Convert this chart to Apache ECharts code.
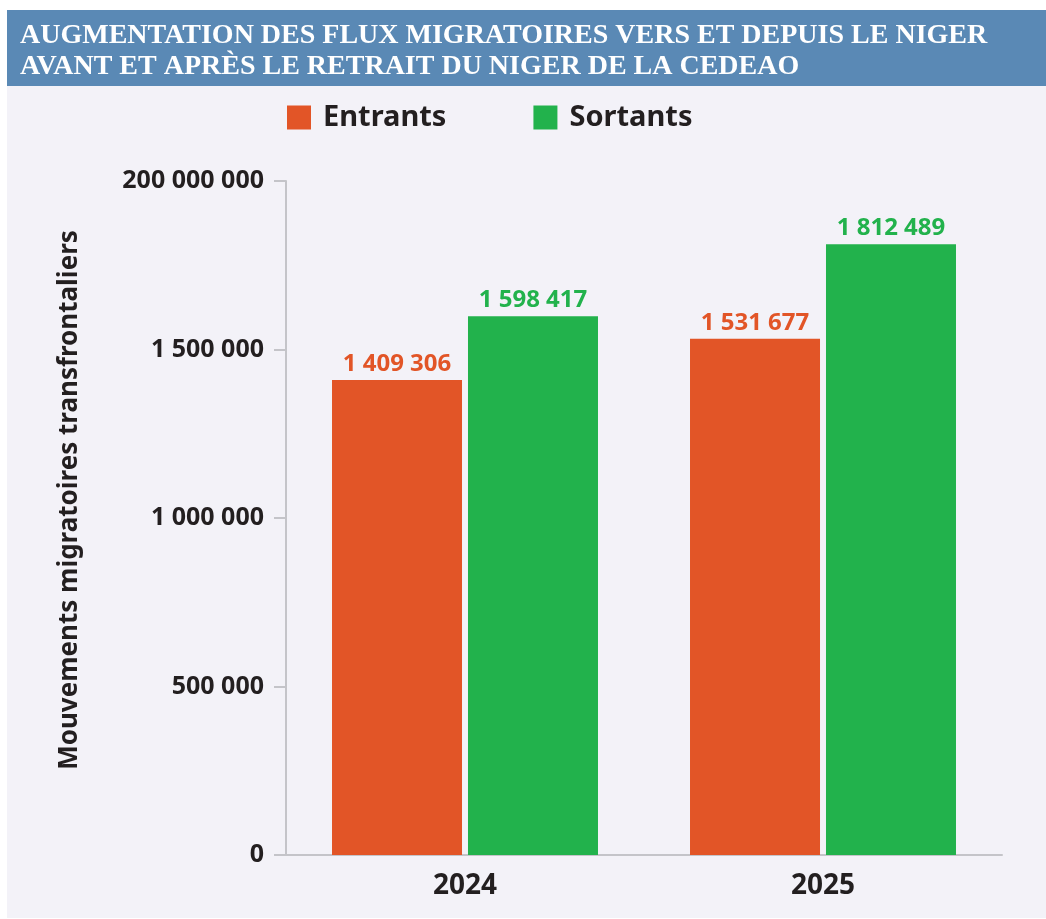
<!DOCTYPE html>
<html>
<head>
<meta charset="utf-8">
<script src="https://cdn.jsdelivr.net/npm/echarts@6/dist/echarts.min.js"></script>
<style>
  html, body { margin: 0; padding: 0; background: #fff; }
  #chart { width: 1046px; height: 919px; }
</style>
</head>
<body>
<div id="chart"></div>
<script>
// données
const years = ['2024', '2025']
const entrants = [1409306, 1531677]
const sortants = [1598417, 1812489]
const yTickLabels = ['0', '500 000', '1 000 000', '1 500 000', '200 000 000']

const titleLines = [
  'AUGMENTATION DES FLUX MIGRATOIRES VERS ET DEPUIS LE NIGER',
  'AVANT ET APRÈS LE RETRAIT DU NIGER DE LA CEDEAO'
]
const yName = 'Mouvements migratoires transfrontaliers'

const ORANGE = '#e25527'
const GREEN = '#22b24c'
const DARK = '#231f20'
const AXIS = '#c4c4c9'
const FONT = '"Noto Sans", sans-serif'

// format "1 409 306"
function fmt(v) {
  return String(v).replace(/\B(?=(\d{3})+(?!\d))/g, ' ')
}

const chart = echarts.init(document.getElementById('chart'))

const option = {
  backgroundColor: '#ffffff',
  animation: false,
  graphic: [
    {
      type: 'rect',
      z: -10,
      shape: { x: 7, y: 86, width: 1039, height: 832 },
      style: { fill: '#f3f2f8' }
    },
    {
      type: 'rect',
      z: -10,
      shape: { x: 7, y: 10, width: 1039, height: 76 },
      style: { fill: '#5a89b5' }
    },
    {
      type: 'text',
      x: 20,
      y: 22,
      style: {
        text: titleLines[0],
        fill: '#ffffff',
        font: 'bold 28px "Liberation Serif", serif'
      }
    },
    {
      type: 'text',
      x: 20,
      y: 53,
      style: {
        text: titleLines[1],
        fill: '#ffffff',
        font: 'bold 28px "Liberation Serif", serif'
      }
    },
    {
      type: 'text',
      x: 70,
      y: 500,
      rotation: Math.PI / 2,
      style: {
        text: yName,
        fill: DARK,
        font: 'bold 26px ' + FONT,
        align: 'center',
        verticalAlign: 'middle'
      }
    }
  ],
  legend: {
    data: ['Entrants', 'Sortants'],
    left: 287,
    top: 103,
    padding: 0,
    icon: 'rect',
    itemWidth: 24,
    itemHeight: 24,
    itemGap: 87,
    textStyle: {
      color: DARK,
      fontFamily: FONT,
      fontWeight: 'bold',
      fontSize: 29,
      width: 124,
      padding: [0, 0, 0, 7]
    }
  },
  grid: {
    left: 286,
    right: 44,
    top: 181,
    bottom: 64
  },
  xAxis: {
    type: 'category',
    data: years,
    axisLine: { lineStyle: { color: AXIS, width: 2 } },
    axisTick: { show: false },
    axisLabel: {
      color: DARK,
      fontFamily: FONT,
      fontWeight: 'bold',
      fontSize: 28,
      margin: 17
    }
  },
  yAxis: {
    type: 'value',
    min: 0,
    max: 2000000,
    interval: 500000,
    axisLine: { show: true, lineStyle: { color: AXIS, width: 2 } },
    axisTick: { show: true, length: 12, lineStyle: { color: AXIS, width: 2 } },
    splitLine: { show: false },
    axisLabel: {
      color: DARK,
      fontFamily: FONT,
      fontWeight: 'bold',
      fontSize: 25,
      margin: 22,
      formatter: (v) => yTickLabels[Math.round(v / 500000)]
    }
  },
  series: [
    {
      name: 'Entrants',
      type: 'bar',
      data: entrants,
      barWidth: 130,
      barGap: '4.6%',
      itemStyle: { color: ORANGE },
      label: {
        show: true,
        position: 'top',
        distance: 4,
        color: ORANGE,
        fontFamily: FONT,
        fontWeight: 'bold',
        fontSize: 24,
        formatter: (p) => fmt(p.value)
      }
    },
    {
      name: 'Sortants',
      type: 'bar',
      data: sortants,
      barWidth: 130,
      itemStyle: { color: GREEN },
      label: {
        show: true,
        position: 'top',
        distance: 4,
        color: GREEN,
        fontFamily: FONT,
        fontWeight: 'bold',
        fontSize: 24,
        formatter: (p) => fmt(p.value)
      }
    }
  ]
}

chart.setOption(option)
</script>
</body>
</html>
